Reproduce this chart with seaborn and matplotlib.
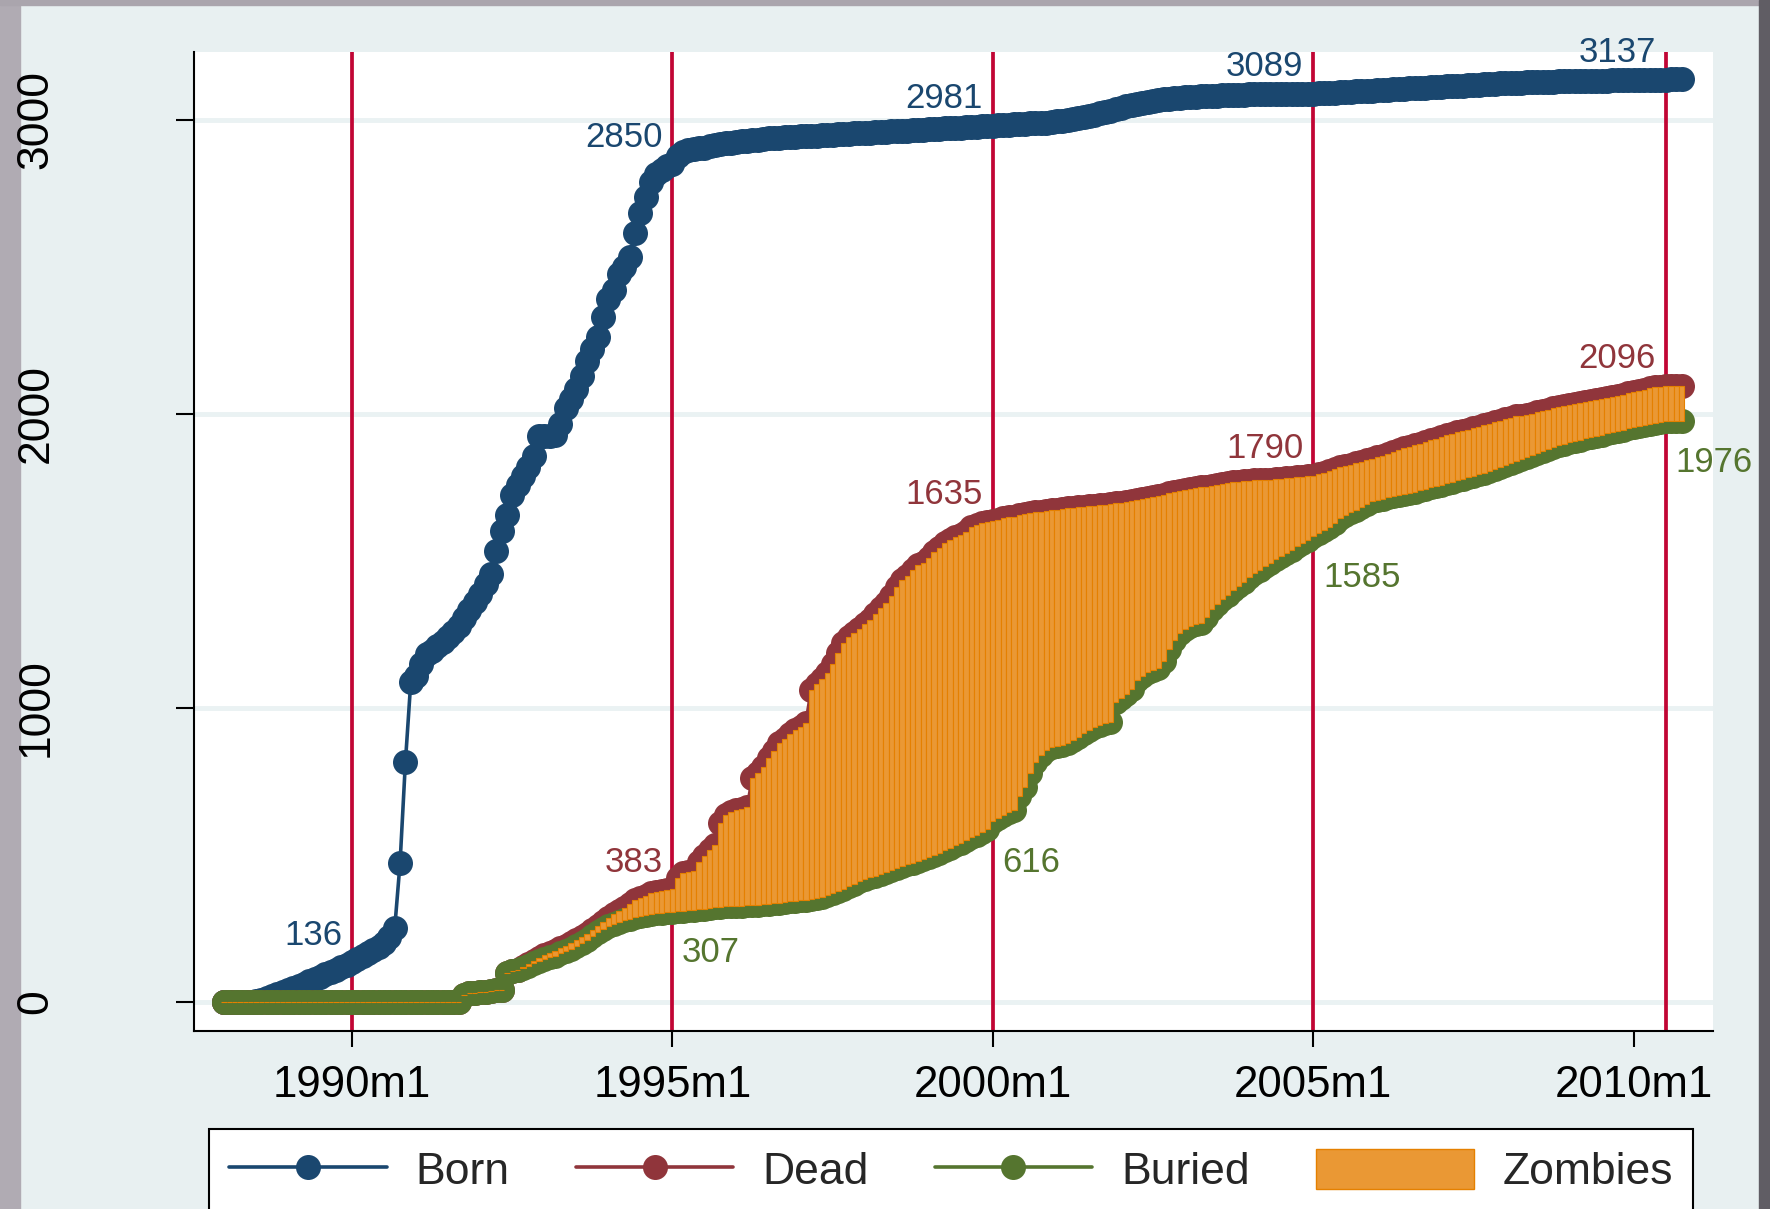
import numpy as np
import pandas as pd
import seaborn as sns
import matplotlib.pyplot as plt
from matplotlib.lines import Line2D
from matplotlib.patches import Patch, Rectangle

# monthly series, 1988m1 .. 2010m10 (one row per year)
born = [
    0, 0, 0, 0, 0, 0, 3, 8, 14, 20, 27, 34,                                    # 1988
    40, 47, 55, 62, 70, 78, 86, 94, 102, 110, 118, 127,                        # 1989
    136, 145, 155, 165, 176, 188, 200, 222, 252, 473, 816, 1088,               # 1990
    1110, 1150, 1184, 1195, 1210, 1224, 1240, 1260, 1279, 1305, 1333, 1360,    # 1991
    1388, 1420, 1456, 1534, 1602, 1656, 1724, 1760, 1789, 1820, 1857, 1925,    # 1992
    1925, 1925, 1930, 1966, 2020, 2050, 2085, 2130, 2180, 2220, 2262, 2330,    # 1993
    2390, 2422, 2476, 2500, 2535, 2615, 2682, 2737, 2790, 2815, 2830, 2843,    # 1994
    2850, 2878, 2890, 2896, 2900, 2903, 2906, 2910, 2914, 2917, 2920, 2923,    # 1995
    2925, 2927, 2929, 2931, 2933, 2935, 2937, 2939, 2940, 2941, 2942, 2943,    # 1996
    2944, 2945, 2946, 2947, 2948, 2949, 2950, 2951, 2952, 2953, 2954, 2955,    # 1997
    2956, 2957, 2958, 2959, 2960, 2961, 2962, 2963, 2964, 2965, 2966, 2967,    # 1998
    2968, 2969, 2970, 2971, 2972, 2973, 2974, 2975, 2976, 2977, 2978, 2979,    # 1999
    2981, 2982, 2983, 2984, 2985, 2986, 2987, 2988, 2989, 2990, 2991, 2993,    # 2000
    2995, 2997, 3000, 3003, 3006, 3010, 3014, 3018, 3022, 3027, 3032, 3037,    # 2001
    3042, 3046, 3050, 3054, 3058, 3062, 3066, 3068, 3070, 3072, 3074, 3076,    # 2002
    3077, 3078, 3079, 3080, 3081, 3082, 3083, 3084, 3085, 3085, 3086, 3086,    # 2003
    3087, 3087, 3087, 3088, 3088, 3088, 3088, 3088, 3089, 3089, 3089, 3089,    # 2004
    3089, 3090, 3091, 3092, 3093, 3094, 3095, 3096, 3097, 3098, 3099, 3100,    # 2005
    3101, 3102, 3103, 3104, 3105, 3106, 3107, 3108, 3109, 3110, 3111, 3112,    # 2006
    3113, 3114, 3115, 3116, 3117, 3118, 3119, 3120, 3121, 3122, 3123, 3124,    # 2007
    3125, 3126, 3127, 3127, 3128, 3128, 3129, 3129, 3130, 3130, 3131, 3131,    # 2008
    3132, 3132, 3133, 3133, 3133, 3134, 3134, 3134, 3135, 3135, 3135, 3136,    # 2009
    3136, 3136, 3136, 3137, 3137, 3137, 3137, 3138, 3139, 3140,                # 2010
]

dead = [
    0, 0, 0, 0, 0, 0, 0, 0, 0, 0, 0, 0,                                        # 1988
    0, 0, 0, 0, 0, 0, 0, 0, 0, 0, 0, 0,                                        # 1989
    0, 0, 0, 0, 0, 0, 0, 0, 0, 0, 0, 0,                                        # 1990
    0, 0, 0, 0, 0, 0, 0, 0, 0, 25, 30, 31,                                     # 1991
    33, 35, 38, 40, 42, 100, 104, 110, 118, 128, 140, 150,                     # 1992
    160, 168, 175, 182, 190, 200, 210, 220, 232, 246, 260, 272,                # 1993
    286, 300, 310, 320, 333, 347, 355, 362, 370, 374, 378, 380,                # 1994
    383, 421, 439, 442, 445, 476, 495, 517, 534, 609, 636, 645,                # 1995
    652, 658, 663, 762, 780, 800, 830, 855, 881, 895, 910, 925,                # 1996
    937, 949, 1061, 1080, 1100, 1119, 1150, 1187, 1220, 1240, 1255, 1270,      # 1997
    1285, 1299, 1320, 1340, 1357, 1380, 1410, 1435, 1450, 1470, 1485, 1493,    # 1998
    1510, 1530, 1545, 1561, 1570, 1580, 1588, 1600, 1616, 1622, 1628, 1632,    # 1999
    1635, 1640, 1645, 1648, 1650, 1655, 1660, 1663, 1665, 1667, 1670, 1673,    # 2000
    1675, 1677, 1679, 1681, 1683, 1684, 1686, 1688, 1690, 1692, 1694, 1696,    # 2001
    1698, 1701, 1704, 1707, 1710, 1714, 1718, 1722, 1726, 1730, 1734, 1738,    # 2002
    1741, 1744, 1747, 1750, 1753, 1756, 1759, 1762, 1765, 1767, 1769, 1771,    # 2003
    1773, 1774, 1775, 1776, 1777, 1778, 1779, 1781, 1783, 1785, 1787, 1789,    # 2004
    1790, 1795, 1800, 1806, 1812, 1818, 1824, 1828, 1833, 1838, 1843, 1848,    # 2005
    1853, 1858, 1863, 1870, 1878, 1883, 1888, 1893, 1898, 1904, 1910, 1916,    # 2006
    1922, 1927, 1932, 1937, 1942, 1947, 1952, 1957, 1962, 1967, 1972, 1977,    # 2007
    1982, 1987, 1992, 1994, 1997, 2001, 2006, 2010, 2015, 2019, 2023, 2027,    # 2008
    2031, 2034, 2038, 2041, 2044, 2048, 2051, 2055, 2058, 2062, 2066, 2070,    # 2009
    2074, 2078, 2082, 2088, 2091, 2093, 2096, 2096, 2096, 2096,                # 2010
]

buried = [
    0, 0, 0, 0, 0, 0, 0, 0, 0, 0, 0, 0,                                        # 1988
    0, 0, 0, 0, 0, 0, 0, 0, 0, 0, 0, 0,                                        # 1989
    0, 0, 0, 0, 0, 0, 0, 0, 0, 0, 0, 0,                                        # 1990
    0, 0, 0, 0, 0, 0, 0, 0, 0, 25, 30, 31,                                     # 1991
    33, 35, 38, 40, 42, 100, 104, 108, 114, 122, 132, 140,                     # 1992
    146, 152, 158, 165, 172, 180, 190, 200, 212, 225, 238, 250,                # 1993
    260, 266, 272, 278, 283, 289, 293, 297, 300, 302, 304, 306,                # 1994
    307, 309, 311, 313, 314, 316, 318, 320, 322, 323, 325, 326,                # 1995
    327, 328, 329, 330, 331, 332, 334, 336, 338, 340, 342, 344,                # 1996
    346, 348, 350, 353, 358, 364, 370, 378, 386, 394, 402, 410,                # 1997
    418, 424, 430, 436, 442, 448, 455, 462, 468, 474, 480, 486,                # 1998
    492, 500, 508, 516, 524, 533, 542, 551, 560, 568, 578, 590,                # 1999
    616, 625, 635, 645, 653, 700, 731, 779, 815, 840, 857, 866,                # 2000
    870, 874, 881, 890, 900, 915, 925, 935, 942, 948, 952, 1020,               # 2001
    1035, 1048, 1065, 1095, 1110, 1122, 1128, 1135, 1160, 1200, 1230, 1255,    # 2002
    1270, 1278, 1285, 1289, 1310, 1335, 1355, 1370, 1385, 1400, 1415, 1430,    # 2003
    1446, 1458, 1470, 1482, 1493, 1505, 1516, 1527, 1537, 1550, 1562, 1573,    # 2004
    1585, 1595, 1605, 1616, 1630, 1645, 1655, 1667, 1675, 1685, 1695, 1705,    # 2005
    1708, 1712, 1716, 1720, 1724, 1728, 1732, 1736, 1740, 1745, 1750, 1755,    # 2006
    1759, 1764, 1769, 1774, 1779, 1784, 1790, 1795, 1799, 1806, 1813, 1820,    # 2007
    1827, 1834, 1841, 1848, 1854, 1860, 1867, 1874, 1880, 1887, 1893, 1899,    # 2008
    1905, 1909, 1913, 1917, 1921, 1925, 1929, 1934, 1939, 1943, 1947, 1951,    # 2009
    1955, 1959, 1962, 1966, 1969, 1972, 1976, 1976, 1976, 1976,                # 2010
]

start_year = 1988
xline_dates = ['1990m1', '1995m1', '2000m1', '2005m1', '2010m7']
xtick_labels = ['1990m1', '1995m1', '2000m1', '2005m1', '2010m1']
yticks = [0, 1000, 2000, 3000]
legend_labels = ['Born', 'Dead', 'Buried', 'Zombies']

NAVY = '#1a476f'
MAROON = '#90353b'
GREEN = '#55752f'
ORANGE_FILL = '#ea9834'
ORANGE_EDGE = '#e58000'
CRANBERRY = '#c10534'


def tm(s):
    y, m = s.split('m')
    return int(y) + (int(m) - 1) / 12


t = start_year + np.arange(len(born)) / 12
df = pd.DataFrame({'t': t, 'Born': born, 'Dead': dead, 'Buried': buried})

sns.set_style('white')
plt.rcParams['font.family'] = ['Liberation Sans', 'DejaVu Sans']

fig = plt.figure(figsize=(17.7, 12.09), dpi=100, facecolor='#e8f0f1')
# window border left over from the screenshot
fig.patches.append(Rectangle((0, 0), 20 / 1770, 1, transform=fig.transFigure, color='#b0abb3', zorder=-5))
fig.patches.append(Rectangle((0, 1 - 5 / 1209), 1, 5 / 1209, transform=fig.transFigure, color='#aaa5ad', zorder=-5))
fig.patches.append(Rectangle((1759 / 1770, 0), 11 / 1770, 1, transform=fig.transFigure, color='#605d64', zorder=-5))

ax = fig.add_axes([194 / 1770, 1 - 1031 / 1209, (1713 - 194) / 1770, (1031 - 52) / 1209])
ax.set_facecolor('white')

for d in xline_dates:
    ax.axvline(tm(d), color=CRANBERRY, linewidth=2.7, zorder=1)

MS = 18
LW = 2.6
line_kw = dict(marker='o', markersize=MS, markeredgewidth=0, linewidth=LW, ax=ax)
sns.lineplot(data=df, x='t', y='Born', color=NAVY, zorder=3, **line_kw)
sns.lineplot(data=df, x='t', y='Dead', color=MAROON, zorder=4, **line_kw)
sns.lineplot(data=df, x='t', y='Buried', color=GREEN, zorder=5, **line_kw)

ax.bar(df['t'], df['Dead'] - df['Buried'], bottom=df['Buried'], width=1 / 12,
       color=ORANGE_FILL, edgecolor=ORANGE_EDGE, linewidth=0.8, zorder=6)

# marker labels at the xline dates
lab_idx = [int(round((tm(d) - start_year) * 12)) for d in xline_dates]
born_idx = [int(round((tm('1990m1') - start_year) * 12))] + lab_idx[1:]
for i in born_idx:
    ax.annotate(str(born[i]), (t[i], born[i]), xytext=(-7, 12.5), textcoords='offset points',
                ha='right', va='baseline', fontsize=25, color=NAVY, zorder=8)
for i in lab_idx[1:]:
    ax.annotate(str(dead[i]), (t[i], dead[i]), xytext=(-7, 12.5), textcoords='offset points',
                ha='right', va='baseline', fontsize=25, color=MAROON, zorder=8)
    ax.annotate(str(buried[i]), (t[i], buried[i]), xytext=(7, -36.5), textcoords='offset points',
                ha='left', va='baseline', fontsize=25, color=GREEN, zorder=8)

ax.set_xlim(1987.534, 2011.24)
ax.set_ylim(-98.6, 3231)
ax.set_xticks([tm(s) for s in xtick_labels])
ax.set_xticklabels(xtick_labels)
ax.set_yticks(yticks)
ax.set_yticklabels([str(v) for v in yticks], rotation=90, va='center')
ax.set_xlabel('')
ax.set_ylabel('')

ax.yaxis.grid(True, color='#eaf2f3', linewidth=3.5)
ax.xaxis.grid(False)
ax.set_axisbelow(True)
for s in ['top', 'right']:
    ax.spines[s].set_visible(False)
for s in ['left', 'bottom']:
    ax.spines[s].set_color('black')
    ax.spines[s].set_linewidth(1.5)
ax.tick_params(axis='y', left=True, length=13, width=1.5, pad=86, labelsize=32, colors='black')
ax.tick_params(axis='x', bottom=True, length=11.5, width=1.5, pad=13, labelsize=31.5, colors='black')

handles = [
    Line2D([], [], color=NAVY, marker='o', markersize=MS, markeredgewidth=0, linewidth=LW),
    Line2D([], [], color=MAROON, marker='o', markersize=MS, markeredgewidth=0, linewidth=LW),
    Line2D([], [], color=GREEN, marker='o', markersize=MS, markeredgewidth=0, linewidth=LW),
    Patch(facecolor=ORANGE_FILL, edgecolor=ORANGE_EDGE, linewidth=1),
]
leg = fig.legend(handles, legend_labels, loc='upper left',
                 bbox_to_anchor=(209 / 1770, 1 - 1129 / 1209, (1693 - 209) / 1770, 0),
                 mode='expand', ncol=4, fontsize=32, frameon=True, fancybox=False,
                 edgecolor='black', facecolor='white', framealpha=1, borderpad=0.45,
                 handlelength=3.55, handleheight=1.0, handletextpad=0.65, borderaxespad=0)
leg.get_frame().set_linewidth(1.5)

fig.savefig('out.png', dpi=100, facecolor=fig.get_facecolor())
